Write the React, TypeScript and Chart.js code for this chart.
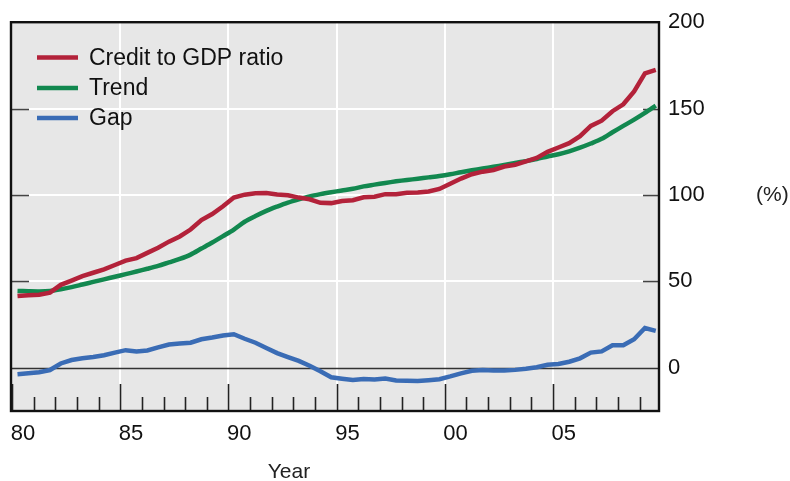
import React, { useEffect, useRef } from "react";
import { Chart, registerables } from "chart.js";

Chart.register(...registerables);

const years = [
  1980.25, 1980.75, 1981.25, 1981.75, 1982.25, 1982.75, 1983.25, 1983.75, 1984.25, 1984.75,
  1985.25, 1985.75, 1986.25, 1986.75, 1987.25, 1987.75, 1988.25, 1988.75, 1989.25, 1989.75,
  1990.25, 1990.75, 1991.25, 1991.75, 1992.25, 1992.75, 1993.25, 1993.75, 1994.25, 1994.75,
  1995.25, 1995.75, 1996.25, 1996.75, 1997.25, 1997.75, 1998.25, 1998.75, 1999.25, 1999.75,
  2000.25, 2000.75, 2001.25, 2001.75, 2002.25, 2002.75, 2003.25, 2003.75, 2004.25, 2004.75,
  2005.25, 2005.75, 2006.25, 2006.75, 2007.25, 2007.75, 2008.25, 2008.75, 2009.25, 2009.75,
];

const creditToGdp = [
  41.5, 42, 42.3, 43.5, 48, 50.5, 53, 55, 57, 59.5,
  62, 63.5, 66.5, 69.5, 73, 76, 80, 85.5, 89, 93.5,
  98.5, 100.2, 101, 101.2, 100.3, 99.8, 98.5, 97.5, 95.5, 95.3,
  96.5, 97, 98.7, 99, 100.5, 100.5, 101.3, 101.5, 102, 103.5,
  106.5, 109.5, 112, 113.5, 114.5, 116.5, 117.5, 119.5, 121.5, 125,
  127.5, 130, 134, 140, 143, 148.5, 152.5, 160, 170.4, 172.4,
];

const trend = [
  44.5, 44.3, 44.2, 44.5, 45.5, 46.7, 48.2, 49.7, 51.2, 52.7,
  54.2, 55.7, 57.3, 59, 61, 63, 65.5, 69, 72.5, 76.2,
  80, 84.5, 87.8, 90.8, 93.3, 95.6, 97.5, 99.2, 100.5, 101.6,
  102.6, 103.6, 105, 106, 107, 107.9, 108.7, 109.4, 110.2, 111,
  112, 113.2, 114.3, 115.3, 116.3, 117.4, 118.5, 119.6, 120.8, 122.3,
  123.6, 125.3, 127.4, 129.8, 132.5, 136.3, 140, 143.6, 147.5, 151.7,
];

const gap = [
  -3.7, -3.2, -2.6, -1.3, 2.5, 4.5, 5.5, 6.3, 7.3, 8.8,
  10.2, 9.5, 10, 11.8, 13.5, 14, 14.5, 16.5, 17.5, 18.7,
  19.4, 16.8, 14.5, 11.5, 8.5, 6.2, 4, 1.2, -2, -5.5,
  -6.3, -7, -6.5, -6.7, -6.2, -7.3, -7.5, -7.7, -7.2, -6.6,
  -5, -3.2, -1.7, -1.3, -1.6, -1.5, -1.2, -0.6, 0.3, 1.8,
  2.2, 3.5, 5.5, 8.8, 9.5, 13, 13, 16.5, 23, 21.4,
];

const xTickYears = [1980, 1985, 1990, 1995, 2000, 2005];
const yTickValues = [0, 50, 100, 150, 200];
const seriesNames = ["Credit to GDP ratio", "Trend", "Gap"];
const seriesColors = ["#b3223a", "#12884f", "#3a6cb5"];

const FONT = "'Liberation Sans', Arial, sans-serif";

const decorPlugin = {
  id: "decor",
  beforeDraw(chart: any) {
    const { ctx, chartArea } = chart;
    ctx.save();
    ctx.fillStyle = "#e7e7e7";
    ctx.fillRect(chartArea.left, chartArea.top, chartArea.right - chartArea.left, chartArea.bottom - chartArea.top);
    ctx.restore();
  },
  beforeDatasetsDraw(chart: any) {
    const { ctx, chartArea, scales } = chart;
    const xs = scales.x;
    const ys = scales.y;
    ctx.save();
    ctx.strokeStyle = "#222";
    ctx.lineWidth = 1.6;
    for (let yr = 1980; yr <= 2009; yr++) {
      const px = Math.round(xs.getPixelForValue(yr)) + 0.5;
      const len = yr % 5 === 0 ? 27 : 14;
      ctx.beginPath();
      ctx.moveTo(px, chartArea.bottom);
      ctx.lineTo(px, chartArea.bottom - len);
      ctx.stroke();
    }
    ctx.strokeStyle = "#444";
    ctx.lineWidth = 1.6;
    [50, 100, 150].forEach((v) => {
      const py = Math.round(ys.getPixelForValue(v)) + 0.5;
      ctx.beginPath();
      ctx.moveTo(chartArea.left, py);
      ctx.lineTo(chartArea.left + 18, py);
      ctx.stroke();
      ctx.beginPath();
      ctx.moveTo(chartArea.right - 16, py);
      ctx.lineTo(chartArea.right, py);
      ctx.stroke();
    });
    const z = Math.round(ys.getPixelForValue(0)) + 0.5;
    ctx.strokeStyle = "#333";
    ctx.lineWidth = 1.4;
    ctx.beginPath();
    ctx.moveTo(chartArea.left, z);
    ctx.lineTo(chartArea.right, z);
    ctx.stroke();
    ctx.restore();
  },
  afterDraw(chart: any) {
    const { ctx, chartArea, scales } = chart;
    ctx.save();
    ctx.strokeStyle = "#111";
    ctx.lineWidth = 2.4;
    ctx.strokeRect(chartArea.left, chartArea.top, chartArea.right - chartArea.left, chartArea.bottom - chartArea.top);
    const legendY = [57.5, 88, 118];
    seriesNames.forEach((name, i) => {
      ctx.strokeStyle = seriesColors[i];
      ctx.lineWidth = 4.5;
      ctx.beginPath();
      ctx.moveTo(37, legendY[i]);
      ctx.lineTo(78, legendY[i]);
      ctx.stroke();
      ctx.fillStyle = "#111";
      ctx.font = `23px ${FONT}`;
      ctx.textBaseline = "middle";
      ctx.textAlign = "left";
      ctx.fillText(name, 89, legendY[i] + 1);
    });
    ctx.font = `21px ${FONT}`;
    ctx.fillStyle = "#222";
    ctx.textBaseline = "middle";
    ctx.textAlign = "left";
    ctx.fillText("(%)", 756, scales.y.getPixelForValue(100));
    ctx.font = `21px ${FONT}`;
    ctx.textAlign = "center";
    ctx.fillText("Year", 289, 472);
    ctx.restore();
  },
};

export default function App() {
  const ref = useRef<HTMLCanvasElement | null>(null);
  useEffect(() => {
    if (!ref.current) return;
    const mk = (vals: number[]) => years.map((x, i) => ({ x, y: vals[i] }));
    const chart = new Chart(ref.current, {
      type: "line",
      data: {
        datasets: [
          { label: seriesNames[0], data: mk(creditToGdp), borderColor: seriesColors[0], borderWidth: 4.5, pointRadius: 0, tension: 0 },
          { label: seriesNames[1], data: mk(trend), borderColor: seriesColors[1], borderWidth: 4.5, pointRadius: 0, tension: 0.3 },
          { label: seriesNames[2], data: mk(gap), borderColor: seriesColors[2], borderWidth: 4.5, pointRadius: 0, tension: 0 },
        ],
      },
      options: {
        animation: false,
        responsive: false,
        devicePixelRatio: 1,
        layout: { padding: { left: 11, top: 21, right: 0, bottom: 0 } },
        plugins: { legend: { display: false }, tooltip: { enabled: false } },
        scales: {
          x: {
            type: "linear",
            min: 1979.95,
            max: 2009.9,
            afterBuildTicks: (s: any) => {
              s.ticks = xTickYears.map((v) => ({ value: v }));
            },
            afterFit: (s: any) => {
              s.height = 70;
              s.paddingLeft = 0;
              s.paddingRight = 0;
            },
            border: { display: false },
            grid: {
              drawTicks: false,
              lineWidth: 2,
              color: (c: any) => (c.tick && c.tick.value === 1980 ? "rgba(0,0,0,0)" : "#ffffff"),
            },
            ticks: {
              padding: 10,
              labelOffset: 10.8,
              maxRotation: 0,
              autoSkip: false,
              color: "#111",
              font: { family: FONT, size: 22 },
              callback: (v: any) => String(Number(v) % 100).padStart(2, "0"),
            },
          },
          y: {
            type: "linear",
            position: "right",
            min: -25,
            max: 200,
            afterBuildTicks: (s: any) => {
              s.ticks = yTickValues.map((v) => ({ value: v }));
            },
            afterFit: (s: any) => {
              s.width = 131;
            },
            border: { display: false },
            grid: {
              drawTicks: false,
              lineWidth: 2,
              color: (c: any) =>
                c.tick && (c.tick.value === 0 || c.tick.value === 200) ? "rgba(0,0,0,0)" : "#ffffff",
            },
            ticks: {
              padding: 9,
              color: "#111",
              font: { family: FONT, size: 22 },
              callback: (v: any) => String(v),
            },
          },
        },
      },
      plugins: [decorPlugin],
    });
    return () => chart.destroy();
  }, []);
  return (
    <div style={{ position: "fixed", left: 0, top: 0, width: 790, height: 481, background: "#fff" }}>
      <canvas ref={ref} width={790} height={481} style={{ display: "block" }} />
    </div>
  );
}
